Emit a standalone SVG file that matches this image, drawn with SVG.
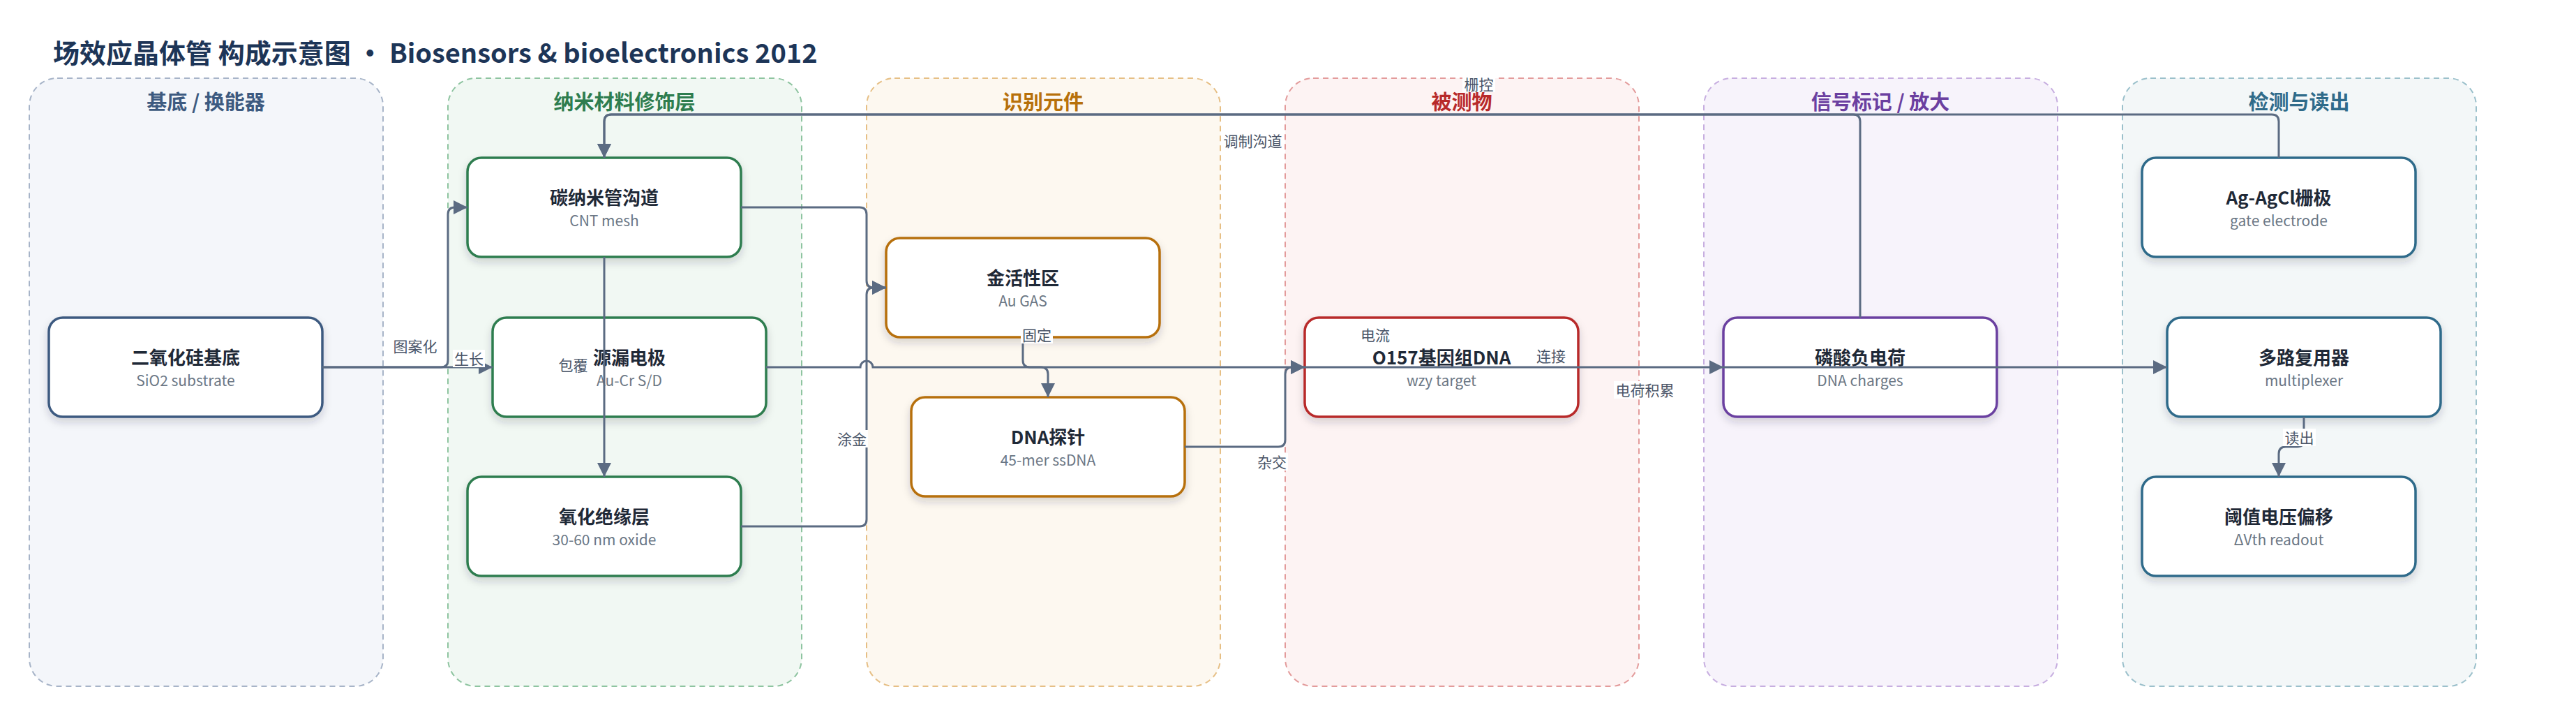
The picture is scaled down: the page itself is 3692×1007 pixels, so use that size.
<svg xmlns="http://www.w3.org/2000/svg" width="3692" height="1007" viewBox="0 0 3692 1007">
<defs>
<filter id="sh" x="-10%" y="-20%" width="120%" height="150%">
<feDropShadow dx="0" dy="6" stdDeviation="6" flood-color="#1f2937" flood-opacity="0.18"/>
</filter>
<marker id="arr" viewBox="0 0 20 20" refX="20" refY="10" markerWidth="20" markerHeight="20" markerUnits="userSpaceOnUse" orient="auto">
<path d="M0,0 L20,10 L0,20 z" fill="#5b6b82"/>
</marker>
<style>
text{font-family:"Noto Sans CJK SC","Noto Sans",sans-serif}
.title{font-size:38px;font-weight:700;fill:#1d3557}
.lane{stroke-width:2;stroke-dasharray:8 6}
.lt{font-size:29px;font-weight:700;text-anchor:middle}
.node{fill:#fff;stroke-width:3.5;filter:url(#sh)}
.nt{font-size:26px;font-weight:700;fill:#1f2937;text-anchor:middle}
.ns{font-size:21px;fill:#6b7785;text-anchor:middle}
.e{fill:none;stroke:#5b6b82;stroke-width:3;marker-end:url(#arr)}
.lb{font-size:21px;fill:#4a5568;text-anchor:middle}
.lbg{fill:#fff}
</style>
</defs>
<rect width="3692" height="1007" fill="#fff"/>
<text class="title" x="76" y="90">场效应晶体管 构成示意图 • Biosensors &amp; bioelectronics 2012</text>

<g id="lanes">
<g id="lane-substrate"><rect class="lane" x="42" y="112" width="507" height="871" rx="40" fill="#f4f6fa" stroke="#a7b4c8"/><text class="lt" x="295" y="157" fill="#3d5a80">基底 / 换能器</text></g>
<g id="lane-nano"><rect class="lane" x="642" y="112" width="507" height="871" rx="40" fill="#f1f8f3" stroke="#8ec4a0"/><text class="lt" x="895" y="157" fill="#2e7d4f">纳米材料修饰层</text></g>
<g id="lane-recog"><rect class="lane" x="1242" y="112" width="507" height="871" rx="40" fill="#fdf8f0" stroke="#e6bf85"/><text class="lt" x="1495" y="157" fill="#b7700a">识别元件</text></g>
<g id="lane-analyte"><rect class="lane" x="1842" y="112" width="507" height="871" rx="40" fill="#fdf3f3" stroke="#e39b9b"/><text class="lt" x="2095" y="157" fill="#b82a2a">被测物</text></g>
<g id="lane-signal"><rect class="lane" x="2442" y="112" width="507" height="871" rx="40" fill="#f7f3fb" stroke="#c7aee0"/><text class="lt" x="2695" y="157" fill="#6b3fa0">信号标记 / 放大</text></g>
<g id="lane-readout"><rect class="lane" x="3042" y="112" width="507" height="871" rx="40" fill="#f3f7f8" stroke="#9bc0cb"/><text class="lt" x="3295" y="157" fill="#2f6b8a">检测与读出</text></g>
</g>

<g id="nodes">
<g id="n-sio2"><rect class="node" x="70" y="455" width="392" height="142" rx="20" stroke="#3d5a80"/><text class="nt" x="266" y="522">二氧化硅基底</text><text class="ns" x="266" y="553">SiO2 substrate</text></g>
<g id="n-cnt"><rect class="node" x="670" y="226" width="392" height="142" rx="20" stroke="#2e7d4f"/><text class="nt" x="866" y="293">碳纳米管沟道</text><text class="ns" x="866" y="324">CNT mesh</text></g>
<g id="n-sd"><rect class="node" x="706" y="455" width="392" height="142" rx="20" stroke="#2e7d4f"/><text class="nt" x="902" y="522">源漏电极</text><text class="ns" x="902" y="553">Au-Cr S/D</text></g>
<g id="n-oxide"><rect class="node" x="670" y="683" width="392" height="142" rx="20" stroke="#2e7d4f"/><text class="nt" x="866" y="750">氧化绝缘层</text><text class="ns" x="866" y="781">30-60 nm oxide</text></g>
<g id="n-gas"><rect class="node" x="1270" y="341" width="392" height="142" rx="20" stroke="#b7700a"/><text class="nt" x="1466" y="408">金活性区</text><text class="ns" x="1466" y="439">Au GAS</text></g>
<g id="n-probe"><rect class="node" x="1306" y="569" width="392" height="142" rx="20" stroke="#b7700a"/><text class="nt" x="1502" y="636">DNA探针</text><text class="ns" x="1502" y="667">45-mer ssDNA</text></g>
<g id="n-target"><rect class="node" x="1870" y="455" width="392" height="142" rx="20" stroke="#b82a2a"/><text class="nt" x="2066" y="522">O157基因组DNA</text><text class="ns" x="2066" y="553">wzy target</text></g>
<g id="n-charge"><rect class="node" x="2470" y="455" width="392" height="142" rx="20" stroke="#6b3fa0"/><text class="nt" x="2666" y="522">磷酸负电荷</text><text class="ns" x="2666" y="553">DNA charges</text></g>
<g id="n-gate"><rect class="node" x="3070" y="226" width="392" height="142" rx="20" stroke="#2f6b8a"/><text class="nt" x="3266" y="293">Ag-AgCl栅极</text><text class="ns" x="3266" y="324">gate electrode</text></g>
<g id="n-mux"><rect class="node" x="3106" y="455" width="392" height="142" rx="20" stroke="#2f6b8a"/><text class="nt" x="3302" y="522">多路复用器</text><text class="ns" x="3302" y="553">multiplexer</text></g>
<g id="n-vth"><rect class="node" x="3070" y="683" width="392" height="142" rx="20" stroke="#2f6b8a"/><text class="nt" x="3266" y="750">阈值电压偏移</text><text class="ns" x="3266" y="781">ΔVth readout</text></g>
</g>

<g id="connectors">
<path class="e" d="M462 526 H632 Q642 526 642 516 V307 Q642 297 652 297 H670"/>
<path class="e" d="M462 526 H706"/>
<path class="e" d="M866 368 V683"/>
<path class="e" d="M1062 297 H1232 Q1242 297 1242 307 V402 Q1242 412 1252 412 H1270"/>
<path class="e" d="M1062 754 H1232 Q1242 754 1242 744 V422 Q1242 412 1252 412 H1270"/>
<path class="e" d="M1466 483 V516 Q1466 526 1476 526 H1492 Q1502 526 1502 536 V569"/>
<path class="e" d="M1098 526 H1233 A9 9 0 0 1 1251 526 H1870"/>
<path class="e" d="M1698 640 H1832 Q1842 640 1842 630 V536 Q1842 526 1852 526 H1870"/>
<path class="e" d="M1870 526 H2470"/>
<path class="e" d="M2470 526 H3106"/>
<path class="e" d="M2666 455 V174 Q2666 164 2656 164 H876 Q866 164 866 174 V226"/>
<path class="e" d="M3266 226 V174 Q3266 164 3256 164 H876 Q866 164 866 174 V226"/>
<path class="e" d="M3302 597 V630 Q3302 640 3292 640 H3276 Q3266 640 3266 650 V683"/>
</g>

<g id="edge-labels">
<rect class="lbg" x="561" y="484" width="68" height="25"/><text class="lb" x="595" y="504">图案化</text>
<rect class="lbg" x="649" y="501" width="46" height="25"/><text class="lb" x="672" y="522">生长</text>
<rect class="lbg" x="798" y="511" width="47" height="25"/><text class="lb" x="821.5" y="531">包覆</text>
<rect class="lbg" x="1198" y="616" width="46" height="25"/><text class="lb" x="1221" y="637">涂金</text>
<rect class="lbg" x="1463" y="467" width="46" height="25"/><text class="lb" x="1486" y="488">固定</text>
<rect class="lbg" x="1800" y="649" width="46" height="25"/><text class="lb" x="1823" y="670">杂交</text>
<rect class="lbg" x="1948" y="467" width="46" height="25"/><text class="lb" x="1971" y="488">电流</text>
<rect class="lbg" x="2200" y="497" width="46" height="25"/><text class="lb" x="2223" y="518">连接</text>
<rect class="lbg" x="2313" y="546" width="89" height="25"/><text class="lb" x="2357.5" y="567">电荷积累</text>
<rect class="lbg" x="1751" y="189" width="89" height="25"/><text class="lb" x="1795.5" y="210">调制沟道</text>
<rect class="lbg" x="2096" y="108" width="47" height="24"/><text class="lb" x="2119.5" y="129">栅控</text>
<rect class="lbg" x="3272" y="614" width="47" height="25"/><text class="lb" x="3295.5" y="635">读出</text>
</g>
</svg>
